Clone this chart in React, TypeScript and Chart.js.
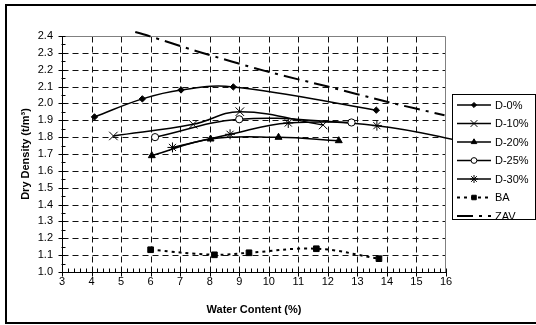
import React, { useEffect, useRef } from 'react';
import { Chart, registerables } from 'chart.js';

Chart.register(...registerables);

// ---- data ----
const seriesNames = ['D-0%', 'D-10%', 'D-20%', 'D-25%', 'D-30%', 'BA', 'ZAV'];

const d0X = [4.1, 5.72, 7.03, 8.8, 13.64];
const d0Y = [1.92, 2.027, 2.08, 2.098, 1.96];

const d10X = [4.74, 7.44, 9.02, 11.84];
const d10Y = [1.807, 1.876, 1.951, 1.872];

const d20X = [6.04, 8.03, 10.33, 12.37];
const d20Y = [1.69, 1.789, 1.799, 1.779];

const d25X = [6.15, 9.0, 12.8];
const d25Y = [1.8, 1.906, 1.887];

const d30X = [6.74, 8.69, 10.66, 13.66, 17.0];
const d30Y = [1.739, 1.817, 1.884, 1.868, 1.76];

const baX = [6.0, 8.16, 9.33, 11.61, 13.73];
const baY = [1.132, 1.102, 1.114, 1.138, 1.079];

const zavX = [5.48, 5.98, 7.56, 9.93, 12.0, 14.0, 15.95];
const zavY = [2.424, 2.398, 2.31, 2.19, 2.1, 2.01, 1.93];

const xTickVals = [3, 4, 5, 6, 7, 8, 9, 10, 11, 12, 13, 14, 15, 16];
const yTickVals = [1.0, 1.1, 1.2, 1.3, 1.4, 1.5, 1.6, 1.7, 1.8, 1.9, 2.0, 2.1, 2.2, 2.3, 2.4];

const xTitle = 'Water Content (%)';
const yTitle = 'Dry Density (t/m³)';

const FONT = "'Liberation Sans', Arial, sans-serif";

const pts = (xs: number[], ys: number[]) => xs.map((x, i) => ({ x, y: ys[i] }));

type Style = {
  point: string;
  radius: number;
  fill: string;
  dash: number[];
  width: number;
};

const styles: Style[] = [
  { point: 'rectRot', radius: 3.2, fill: '#000', dash: [], width: 1.5 },
  { point: 'crossRot', radius: 6, fill: '#000', dash: [], width: 1.5 },
  { point: 'triangle', radius: 4, fill: '#000', dash: [], width: 1.5 },
  { point: 'circle', radius: 3.6, fill: '#fff', dash: [], width: 1.5 },
  { point: 'star', radius: 5, fill: '#000', dash: [], width: 1.5 },
  { point: 'rect', radius: 4, fill: '#000', dash: [3, 4], width: 2 },
  { point: 'line', radius: 0, fill: '#000', dash: [16, 6, 3, 6], width: 2 },
];

function drawMarker(ctx: CanvasRenderingContext2D, style: string, x: number, y: number, r: number, fill: string) {
  ctx.save();
  ctx.setLineDash([]);
  ctx.lineWidth = 1;
  ctx.strokeStyle = '#000';
  ctx.fillStyle = fill;
  ctx.beginPath();
  if (style === 'rectRot') {
    ctx.moveTo(x - r, y);
    ctx.lineTo(x, y - r);
    ctx.lineTo(x + r, y);
    ctx.lineTo(x, y + r);
    ctx.closePath();
    ctx.fill();
    ctx.stroke();
  } else if (style === 'crossRot') {
    const d = r * Math.SQRT1_2;
    ctx.moveTo(x - d, y - d);
    ctx.lineTo(x + d, y + d);
    ctx.moveTo(x - d, y + d);
    ctx.lineTo(x + d, y - d);
    ctx.stroke();
  } else if (style === 'triangle') {
    ctx.moveTo(x, y - r);
    ctx.lineTo(x + r * Math.sin(Math.PI * 2 / 3), y + r * 0.5);
    ctx.lineTo(x - r * Math.sin(Math.PI * 2 / 3), y + r * 0.5);
    ctx.closePath();
    ctx.fill();
    ctx.stroke();
  } else if (style === 'circle') {
    ctx.arc(x, y, r, 0, Math.PI * 2);
    ctx.fill();
    ctx.stroke();
  } else if (style === 'star') {
    const d = r * Math.SQRT1_2;
    ctx.moveTo(x - d, y - d);
    ctx.lineTo(x + d, y + d);
    ctx.moveTo(x - d, y + d);
    ctx.lineTo(x + d, y - d);
    ctx.moveTo(x, y - r);
    ctx.lineTo(x, y + r);
    ctx.moveTo(x - r, y);
    ctx.lineTo(x + r, y);
    ctx.stroke();
  } else if (style === 'rect') {
    const s = r * Math.SQRT1_2;
    ctx.rect(x - s, y - s, 2 * s, 2 * s);
    ctx.fill();
    ctx.stroke();
  }
  ctx.restore();
}

const decor = {
  id: 'decor',
  beforeDatasetsDraw(chart: any) {
    const { ctx, chartArea: a, scales } = chart;
    const xs = scales.x;
    const ys = scales.y;
    const L = Math.round(a.left) + 0.5;
    const R = Math.round(a.right) - 0.5;
    const T = Math.round(a.top) + 0.5;
    const B = Math.round(a.bottom) + 0.5;
    ctx.save();
    ctx.lineWidth = 1;
    // dashed grid
    ctx.strokeStyle = '#111';
    ctx.setLineDash([6, 4]);
    for (const v of yTickVals) {
      if (v <= 1.0 || v >= 2.4) continue;
      const py = Math.round(ys.getPixelForValue(v)) + 0.5;
      ctx.beginPath();
      ctx.moveTo(L, py);
      ctx.lineTo(R, py);
      ctx.stroke();
    }
    for (const v of xTickVals) {
      if (v <= 3 || v >= 16) continue;
      const px = Math.round(xs.getPixelForValue(v)) + 0.5;
      ctx.beginPath();
      ctx.moveTo(px, T);
      ctx.lineTo(px, B);
      ctx.stroke();
    }
    ctx.setLineDash([]);
    // plot border top/right
    ctx.strokeStyle = '#808080';
    ctx.beginPath();
    ctx.moveTo(L, T);
    ctx.lineTo(R, T);
    ctx.lineTo(R, B);
    ctx.stroke();
    // axes
    ctx.strokeStyle = '#000';
    ctx.beginPath();
    ctx.moveTo(L, T);
    ctx.lineTo(L, B);
    ctx.lineTo(R + 0.5, B);
    ctx.stroke();
    // y ticks (0.05)
    ctx.beginPath();
    for (let i = 0; i <= 28; i++) {
      const v = 1.0 + i * 0.05;
      const py = Math.round(ys.getPixelForValue(v)) + 0.5;
      if (i % 2 === 0) {
        ctx.moveTo(L - 4, py);
        ctx.lineTo(L + 3, py);
      } else {
        ctx.moveTo(L - 1, py);
        ctx.lineTo(L + 3, py);
      }
    }
    // x ticks (0.2)
    for (let i = 0; i <= 65; i++) {
      const v = 3 + i * 0.2;
      const px = Math.round(xs.getPixelForValue(v)) + 0.5;
      if (i % 5 === 0) {
        ctx.moveTo(px, B - 4);
        ctx.lineTo(px, B + 4);
      } else {
        ctx.moveTo(px, B - 4);
        ctx.lineTo(px, B);
      }
    }
    ctx.stroke();
    ctx.restore();
  },
  afterDraw(chart: any) {
    const { ctx, chartArea: a } = chart;
    ctx.save();
    ctx.fillStyle = '#000';
    // axis titles
    ctx.font = `bold 11px ${FONT}`;
    ctx.textAlign = 'center';
    ctx.textBaseline = 'middle';
    ctx.fillText(xTitle, (a.left + a.right) / 2, 310);
    ctx.save();
    ctx.translate(26, (a.top + a.bottom) / 2);
    ctx.rotate(-Math.PI / 2);
    ctx.fillText(yTitle, 0, 0);
    ctx.restore();

    // legend
    const bx = 452.5, by = 94.5, bw = 83, bh = 125;
    ctx.fillStyle = '#fff';
    ctx.fillRect(bx, by, bw, bh);
    ctx.strokeStyle = '#000';
    ctx.lineWidth = 1;
    ctx.strokeRect(bx, by, bw, bh);
    ctx.font = `11px ${FONT}`;
    ctx.textAlign = 'left';
    ctx.textBaseline = 'middle';
    seriesNames.forEach((name, i) => {
      const st = styles[i];
      const yy = 105 + i * 18.5;
      ctx.save();
      ctx.strokeStyle = '#000';
      ctx.lineWidth = st.width;
      ctx.setLineDash(st.dash);
      ctx.beginPath();
      ctx.moveTo(457, yy);
      ctx.lineTo(491, yy);
      ctx.stroke();
      ctx.restore();
      if (st.radius > 0) drawMarker(ctx, st.point, 474, yy, st.radius * 0.8, st.fill);
      ctx.fillStyle = '#000';
      ctx.fillText(name, 495, yy + 0.5);
    });

    // outer frame
    ctx.strokeStyle = '#000';
    ctx.lineWidth = 2;
    ctx.setLineDash([]);
    ctx.strokeRect(6, 5, 540, 318);
    ctx.restore();
  },
};

export default function App() {
  const ref = useRef<HTMLCanvasElement | null>(null);
  useEffect(() => {
    if (!ref.current) return;
    Chart.defaults.color = '#000';
    Chart.defaults.font.family = FONT;
    const seriesData = [
      pts(d0X, d0Y),
      pts(d10X, d10Y),
      pts(d20X, d20Y),
      pts(d25X, d25Y),
      pts(d30X, d30Y),
      pts(baX, baY),
      pts(zavX, zavY),
    ];
    const datasets = seriesData.map((data, i) => {
      const st = styles[i];
      const ds: any = {
        label: seriesNames[i],
        data,
        borderColor: '#000',
        backgroundColor: st.fill,
        borderWidth: st.width,
        borderDash: st.dash,
        tension: i === 6 ? 0.3 : 0.4,
        pointStyle: st.point === 'line' ? false : st.point,
        pointRadius: st.radius,
        pointBorderColor: '#000',
        pointBackgroundColor: st.fill,
        pointBorderWidth: 1,
      };
      if (i === 6) ds.clip = false;
      if (i === 4) ds.clip = { left: 0, top: 0, right: 6, bottom: 0 };
      return ds;
    });
    const chart = new Chart(ref.current, {
      type: 'line',
      data: { datasets },
      plugins: [decor],
      options: {
        animation: false,
        responsive: false,
        devicePixelRatio: 1,
        layout: { padding: { left: 0, right: 90, top: 36, bottom: 0 } },
        elements: { line: { capBezierPoints: false } },
        plugins: {
          legend: { display: false },
          tooltip: { enabled: false },
        },
        scales: {
          x: {
            type: 'linear',
            min: 3,
            max: 16,
            grid: { display: false, drawTicks: false },
            border: { display: false },
            afterBuildTicks: (s: any) => {
              s.ticks = xTickVals.map((v) => ({ value: v }));
            },
            afterFit: (s: any) => {
              s.height = 53;
            },
            ticks: {
              autoSkip: false,
              maxRotation: 0,
              padding: 3,
              font: { size: 11, family: FONT },
              color: '#000',
              callback: (v: any) => String(v),
            },
          },
          y: {
            type: 'linear',
            min: 1.0,
            max: 2.4,
            grid: { display: false, drawTicks: false },
            border: { display: false },
            afterBuildTicks: (s: any) => {
              s.ticks = yTickVals.map((v) => ({ value: v }));
            },
            afterFit: (s: any) => {
              s.width = 62;
            },
            ticks: {
              autoSkip: false,
              padding: 9,
              font: { size: 11, family: FONT },
              color: '#000',
              callback: (v: any) => Number(v).toFixed(1),
            },
          },
        },
      } as any,
    });
    return () => chart.destroy();
  }, []);
  return (
    <div style={{ position: 'fixed', left: 0, top: 0, width: 536, height: 325, background: '#fff' }}>
      <canvas ref={ref} width={536} height={325} style={{ display: 'block', width: 536, height: 325 }} />
    </div>
  );
}
